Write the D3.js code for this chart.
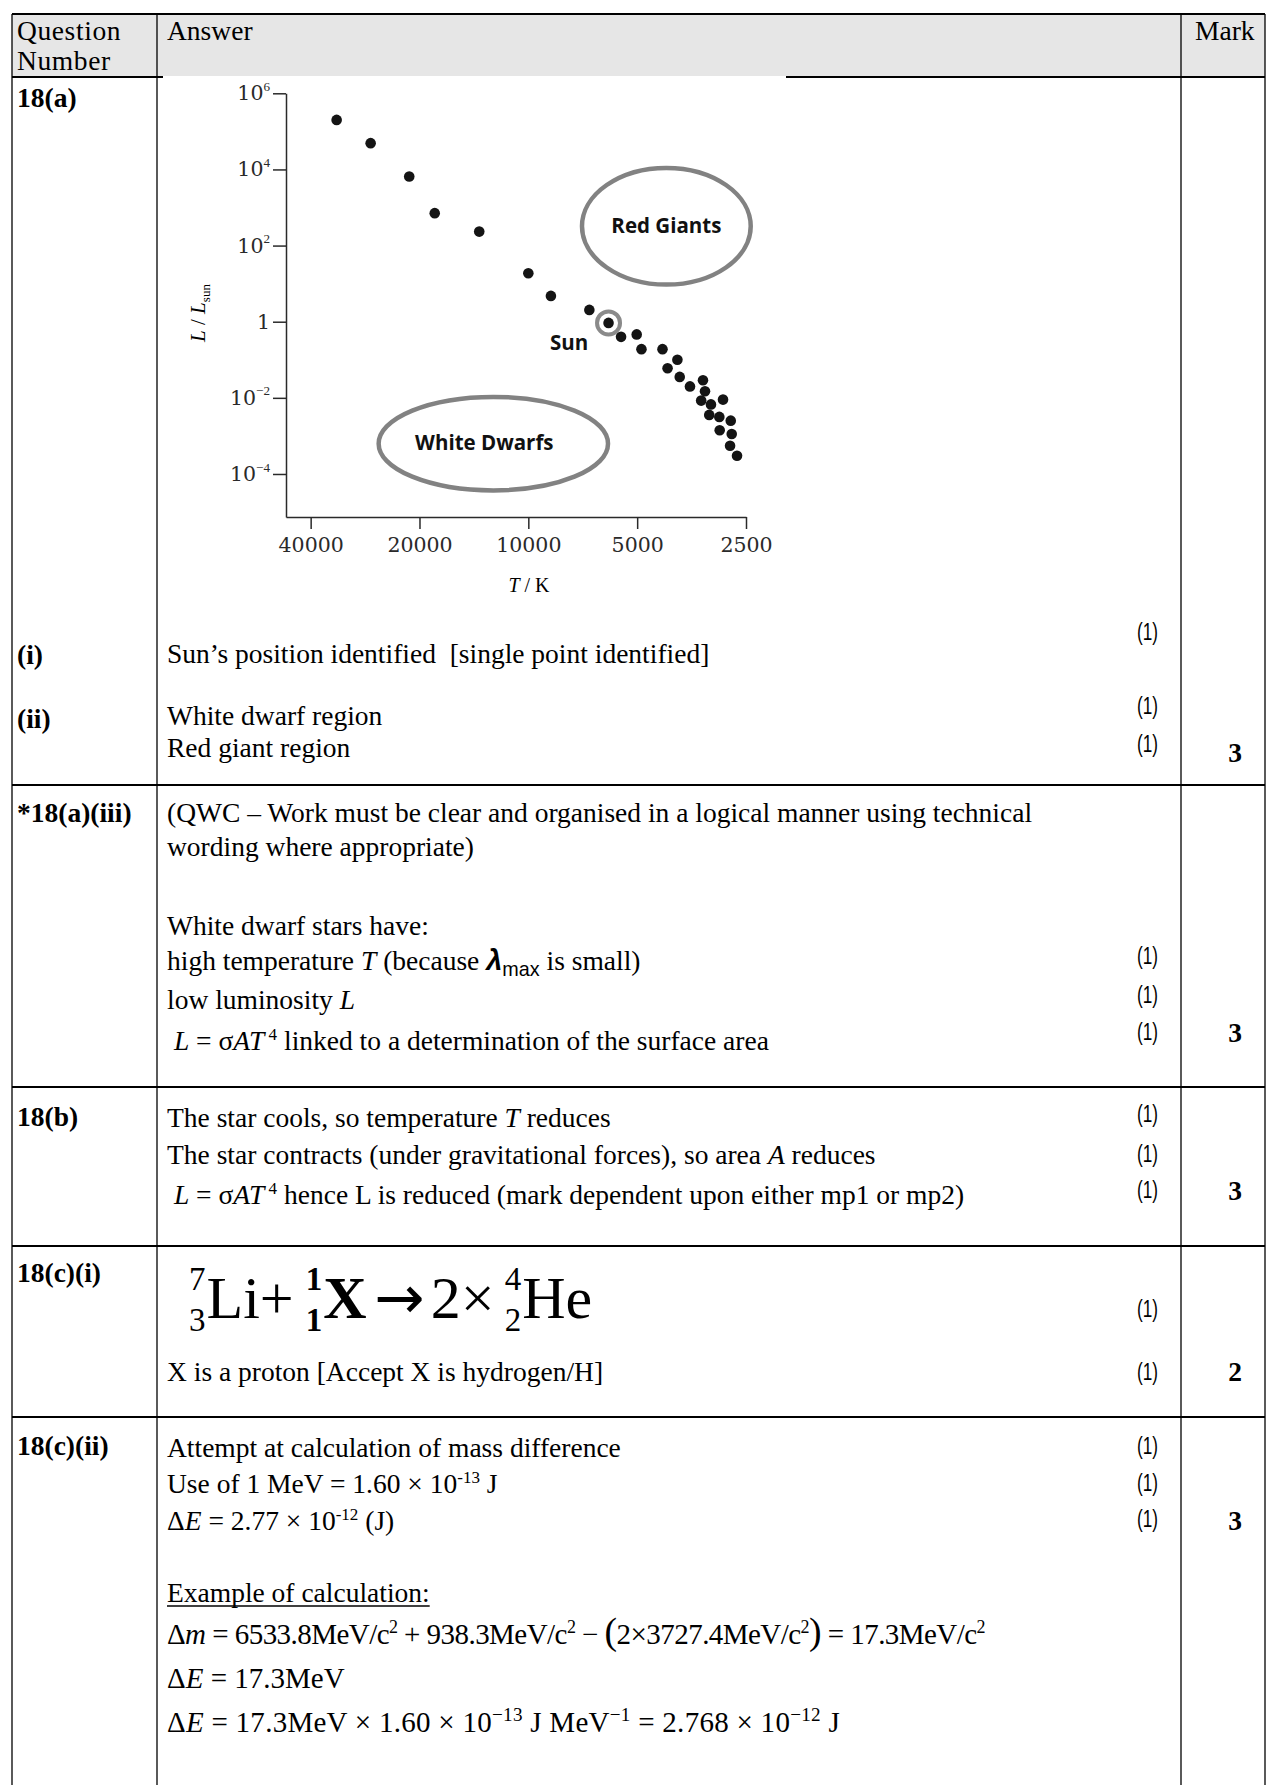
<!DOCTYPE html>
<html><head><meta charset="utf-8">
<script src="https://cdn.jsdelivr.net/npm/d3@7"></script>
<style>
html,body{margin:0;padding:0;background:#fff;}
svg{display:block;}
text{white-space:pre;}
</style></head><body>
<svg id="page" width="1277" height="1785"></svg>
<script>
// ---------------- chart data ----------------
const temps = [33900, 27300, 21350, 18150, 13670, 10000, 8660, 6780, 5540, 5015, 4865, 4255, 3870, 4120,
               3813, 3572, 3288, 3246, 3326, 3125, 2894, 3160, 2963, 2755, 2956, 2738, 2767, 2647];
const lums  = [2.0e5, 4.9e4, 6.5e3, 710, 233, 18.8, 4.76, 2.04, 0.40, 0.464, 0.19, 0.19, 0.10, 0.060,
               0.0355, 0.020, 0.029, 0.0149, 0.00846, 0.00673, 0.0090, 0.00356, 0.00316, 0.00252, 0.00141, 0.00112, 0.000553, 0.000302];
const sunT = 6000, sunL = 0.93;
const xTicks = [40000, 20000, 10000, 5000, 2500];
const yTicks = [1e-4, 1e-2, 1, 1e2, 1e4, 1e6];
const regionNames = ["Red Giants", "White Dwarfs"];
const regionT = [[7105, 2426], [25940, 6020]];
const regionL = [[10960, 9.43], [0.0106, 3.71e-5]];

// ---------------- table content ----------------
const qLabels = ["18(a)", "(i)", "(ii)", "*18(a)(iii)", "18(b)", "18(c)(i)", "18(c)(ii)"];
const markTotals = ["3", "3", "3", "2", "3"];

const SERIF = "'Liberation Serif','Times New Roman',Times,serif";
const TICKF = "'DejaVu Serif',serif";
const SANS = "'Liberation Sans',Arial,sans-serif";
const LABELF = "'Open Sans','Noto Sans',sans-serif";
const FS = 27.5;

const svg = d3.select("#page");

function rich(sel, x, y, segs, opt) {
  opt = opt || {};
  const size = opt.size || FS;
  const t = sel.append("text").attr("x", x).attr("y", y)
    .attr("font-family", opt.ff || SERIF).attr("font-size", size).attr("fill", "#000");
  if (opt.anchor) t.attr("text-anchor", opt.anchor);
  if (opt.weight) t.attr("font-weight", opt.weight);
  let shift = 0;
  segs.forEach(s => {
    if (typeof s === "string") s = {t: s};
    const ts = t.append("tspan").text(s.t);
    let target = 0, fs = size;
    const ss = s.ss || 0.62;
    if (s.sup) { target = -size * 0.38; fs = size * ss; }
    if (s.sub) { target = size * 0.22; fs = size * ss; }
    if (s.fs) fs = size * s.fs;
    ts.attr("font-size", fs);
    if (target !== shift) { ts.attr("dy", target - shift); shift = target; }
    if (s.i) ts.attr("font-style", "italic");
    if (s.b) ts.attr("font-weight", "bold");
    if (s.ff) ts.attr("font-family", s.ff);
    if (s.dx) ts.attr("dx", s.dx);
  });
  return t;
}
function fitWidth(t, target) {
  const nat = t.node().getBBox().width;
  const n = t.text().length;
  t.style("letter-spacing", ((target - nat) / n) + "px");
}

// ---------------- table frame ----------------
const X0 = 12, X1 = 157, X2 = 1181, X3 = 1265;
const rowY = [14, 77, 785, 1087, 1246, 1417];
const frame = svg.append("g");
frame.append("rect").attr("x", X0).attr("y", rowY[0]).attr("width", X3 - X0).attr("height", rowY[1] - rowY[0]).attr("fill", "#e6e6e6");
rowY.forEach(yy => frame.append("line").attr("x1", X0).attr("x2", X3).attr("y1", yy).attr("y2", yy)
  .attr("stroke", "#000").attr("stroke-width", 2));
[X0, X1, X2, X3].forEach(xx => frame.append("line").attr("x1", xx).attr("x2", xx).attr("y1", rowY[0]).attr("y2", 1785)
  .attr("stroke", "#000").attr("stroke-width", 1.3));

// header
rich(svg, 17, 40, ["Question"]).style("letter-spacing", "0.6px");
rich(svg, 17, 70, ["Number"]).style("letter-spacing", "0.6px");
rich(svg, 167, 40, ["Answer"]);
rich(svg, 1195, 40, ["Mark"]);

// question numbers
const qY = [107, 664, 728, 822, 1126, 1282, 1455];
qLabels.forEach((q, i) => rich(svg, 17, qY[i], [q], {weight: "bold"}));

// answer lines
const answerLines = [
  {y: 663, segs: ["Sun’s position identified  [single point identified]"]},
  {y: 725, segs: ["White dwarf region"]},
  {y: 757, segs: ["Red giant region"]},
  {y: 822, segs: ["(QWC – Work must be clear and organised in a logical manner using technical"]},
  {y: 856, segs: ["wording where appropriate)"]},
  {y: 935, segs: ["White dwarf stars have:"]},
  {y: 970, segs: ["high temperature ", {t: "T", i: 1}, " (because ", {t: "λ", i: 1, b: 1, ff: SANS, fs: 1.05}, {t: "max", sub: 1, ff: SANS, ss: 0.72}, " is small)"]},
  {y: 1009, segs: ["low luminosity ", {t: "L", i: 1}]},
  {y: 1050, segs: [" ", {t: "L", i: 1}, " = σ", {t: "AT", i: 1}, {t: " 4", sup: 1}, " linked to a determination of the surface area"]},
  {y: 1127, segs: ["The star cools, so temperature ", {t: "T", i: 1}, " reduces"]},
  {y: 1164, segs: ["The star contracts (under gravitational forces), so area ", {t: "A", i: 1}, " reduces"]},
  {y: 1204, segs: [" ", {t: "L", i: 1}, " = σ", {t: "AT", i: 1}, {t: " 4", sup: 1}, " hence L is reduced (mark dependent upon either mp1 or mp2)"]},
  {y: 1381, segs: ["X is a proton [Accept X is hydrogen/H]"]},
  {y: 1457, segs: ["Attempt at calculation of mass difference"]},
  {y: 1493, segs: ["Use of 1 MeV = 1.60 × 10", {t: "-13", sup: 1}, " J"]},
  {y: 1530, segs: ["Δ", {t: "E", i: 1}, " = 2.77 × 10", {t: "-12", sup: 1}, " (J)"]},
  {y: 1602, segs: ["Example of calculation:"], underline: true}
];
answerLines.forEach(l => {
  const t = rich(svg, 167, l.y, l.segs);
  if (l.underline) {
    const w = t.node().getComputedTextLength();
    svg.append("line").attr("x1", 167).attr("x2", 167 + w).attr("y1", l.y + 4).attr("y2", l.y + 4)
      .attr("stroke", "#000").attr("stroke-width", 1.5);
  }
});

// equations
const EQ = 29;
const eq1 = rich(svg, 167, 1644, ["Δ", {t: "m", i: 1}, " = 6533.8MeV/c", {t: "2", sup: 1}, " + 938.3MeV/c", {t: "2", sup: 1},
  " − ", {t: "(", fs: 1.3}, "2×3727.4MeV/c", {t: "2", sup: 1}, {t: ")", fs: 1.3}, " = 17.3MeV/c", {t: "2", sup: 1}], {size: EQ});
fitWidth(eq1, 818);
rich(svg, 167, 1688, ["Δ", {t: "E", i: 1}, " = 17.3MeV"], {size: EQ});
const eq3 = rich(svg, 167, 1732, ["Δ", {t: "E", i: 1}, " = 17.3MeV × 1.60 × 10", {t: "−13", sup: 1, ss: 0.66}, " J MeV", {t: "−1", sup: 1, ss: 0.66},
  " = 2.768 × 10", {t: "−12", sup: 1, ss: 0.66}, " J"], {size: EQ});
fitWidth(eq3, 673);

// nuclear equation
function nuclide(g, x, yb, A, Z, sym, bold, size) {
  const small = size * 0.55;
  const w8 = bold ? "bold" : "normal";
  const a = g.append("text").attr("x", x).attr("y", yb - size * 0.47).attr("font-size", small)
    .attr("font-family", SERIF).attr("font-weight", w8).text(A);
  const z = g.append("text").attr("x", x).attr("y", yb + size * 0.22).attr("font-size", small)
    .attr("font-family", SERIF).attr("font-weight", w8).text(Z);
  const w = Math.max(a.node().getComputedTextLength(), z.node().getComputedTextLength());
  const s = g.append("text").attr("x", x + w + 1).attr("y", yb).attr("font-size", size)
    .attr("font-family", SERIF).attr("font-weight", w8).text(sym);
  return x + w + 1 + s.node().getComputedTextLength();
}
function plain(g, x, yb, str, size, ff) {
  const t = g.append("text").attr("x", x).attr("y", yb).attr("font-size", size).attr("font-family", ff || SERIF).text(str);
  return x + t.node().getComputedTextLength();
}
{
  const NS = 60, yb = 1318;
  let cx = nuclide(svg, 189, yb, "7", "3", "Li", false, NS);
  cx = plain(svg, cx, yb, "+", NS);
  cx = nuclide(svg, cx + 12, yb, "1", "1", "X", true, NS);
  cx = plain(svg, cx + 8, yb, "→", NS, "'DejaVu Sans',sans-serif");
  cx = plain(svg, cx + 6, yb, "2×", NS);
  nuclide(svg, cx + 10, yb, "4", "2", "He", false, NS);
}

// marks
const oneY = [640, 714, 752, 964, 1003, 1040, 1122, 1162, 1198, 1317, 1380, 1454, 1491, 1527];
oneY.forEach(yy => svg.append("text").attr("transform", `translate(1137,${yy}) scale(0.7,1)`)
  .attr("font-family", SANS).attr("font-size", 24.5).text("(1)"));
const totY = [762, 1042, 1200, 1381, 1530];
markTotals.forEach((m, i) => rich(svg, 1235, totY[i], [m], {weight: "bold", anchor: "middle"}));

// ---------------- chart ----------------
const chart = svg.append("g");
chart.append("rect").attr("x", 163).attr("y", 76).attr("width", 623).attr("height", 496).attr("fill", "#fff");

const x = d3.scaleLog().domain([46800, 2500]).range([286, 746]);
const y = d3.scaleLog().domain([Math.pow(10, -5.13), 1e6]).range([517, 93.3]);

const ax = chart.append("g").attr("transform", "translate(0,517)")
  .call(d3.axisBottom(x).tickValues(xTicks).tickSize(12).tickSizeOuter(0).tickPadding(8.5).tickFormat(d3.format("d")));
const ay = chart.append("g").attr("transform", "translate(286,0)")
  .call(d3.axisLeft(y).tickValues(yTicks).tickSize(13).tickSizeOuter(0).tickPadding(3));
[ax, ay].forEach(a => {
  a.selectAll("path,line").attr("stroke", "#2a2a2a").attr("stroke-width", 1.5);
  a.selectAll("text").attr("font-family", TICKF).attr("font-size", 20.5).attr("fill", "#2a2a2a");
});
ay.selectAll(".tick text").each(function (d) {
  const e = Math.round(Math.log10(d));
  const t = d3.select(this);
  t.text(null);
  if (e === 0) { t.text("1"); return; }
  t.append("tspan").text("10");
  t.append("tspan").attr("dy", "-0.72em").attr("font-size", "0.64em").attr("font-family", SERIF)
    .text(e < 0 ? "−" + (-e) : String(e));
});

// axis titles
rich(chart, 529, 592, [{t: "T", i: 1}, " / K"], {size: 20, anchor: "middle"});
rich(chart.append("g").attr("transform", "translate(205,313) rotate(-90)"), 0, 0,
  [{t: "L", i: 1}, " / ", {t: "L", i: 1}, {t: "sun", sub: 1}], {size: 21, anchor: "middle"});

// regions
const labelOff = [[0, 6.5], [-9, 6]];
regionNames.forEach((name, i) => {
  const x1 = x(regionT[i][0]), x2 = x(regionT[i][1]);
  const y1 = y(regionL[i][0]), y2 = y(regionL[i][1]);
  const cx = (x1 + x2) / 2, cy = (y1 + y2) / 2;
  chart.append("ellipse").attr("cx", cx).attr("cy", cy).attr("rx", Math.abs(x2 - x1) / 2).attr("ry", Math.abs(y2 - y1) / 2)
    .attr("fill", "none").attr("stroke", "#828282").attr("stroke-width", 4.5);
  chart.append("text").attr("x", cx + labelOff[i][0]).attr("y", cy + labelOff[i][1])
    .attr("text-anchor", "middle").attr("font-family", LABELF).attr("font-weight", "bold")
    .attr("font-size", 20.5).attr("fill", "#111").text(name);
});

// stars
chart.append("g").selectAll("circle").data(temps.map((t, i) => [t, lums[i]])).join("circle")
  .attr("cx", d => x(d[0])).attr("cy", d => y(d[1])).attr("r", 5.3).attr("fill", "#141414");

// sun
chart.append("circle").attr("cx", x(sunT)).attr("cy", y(sunL)).attr("r", 11.5)
  .attr("fill", "none").attr("stroke", "#8a8a8a").attr("stroke-width", 4);
chart.append("circle").attr("cx", x(sunT)).attr("cy", y(sunL)).attr("r", 5.3).attr("fill", "#141414");
chart.append("text").attr("x", x(sunT) - 58.5).attr("y", y(sunL) + 27)
  .attr("font-family", LABELF).attr("font-weight", "bold").attr("font-size", 20.5).attr("fill", "#111").text("Sun");
</script>
</body></html>
